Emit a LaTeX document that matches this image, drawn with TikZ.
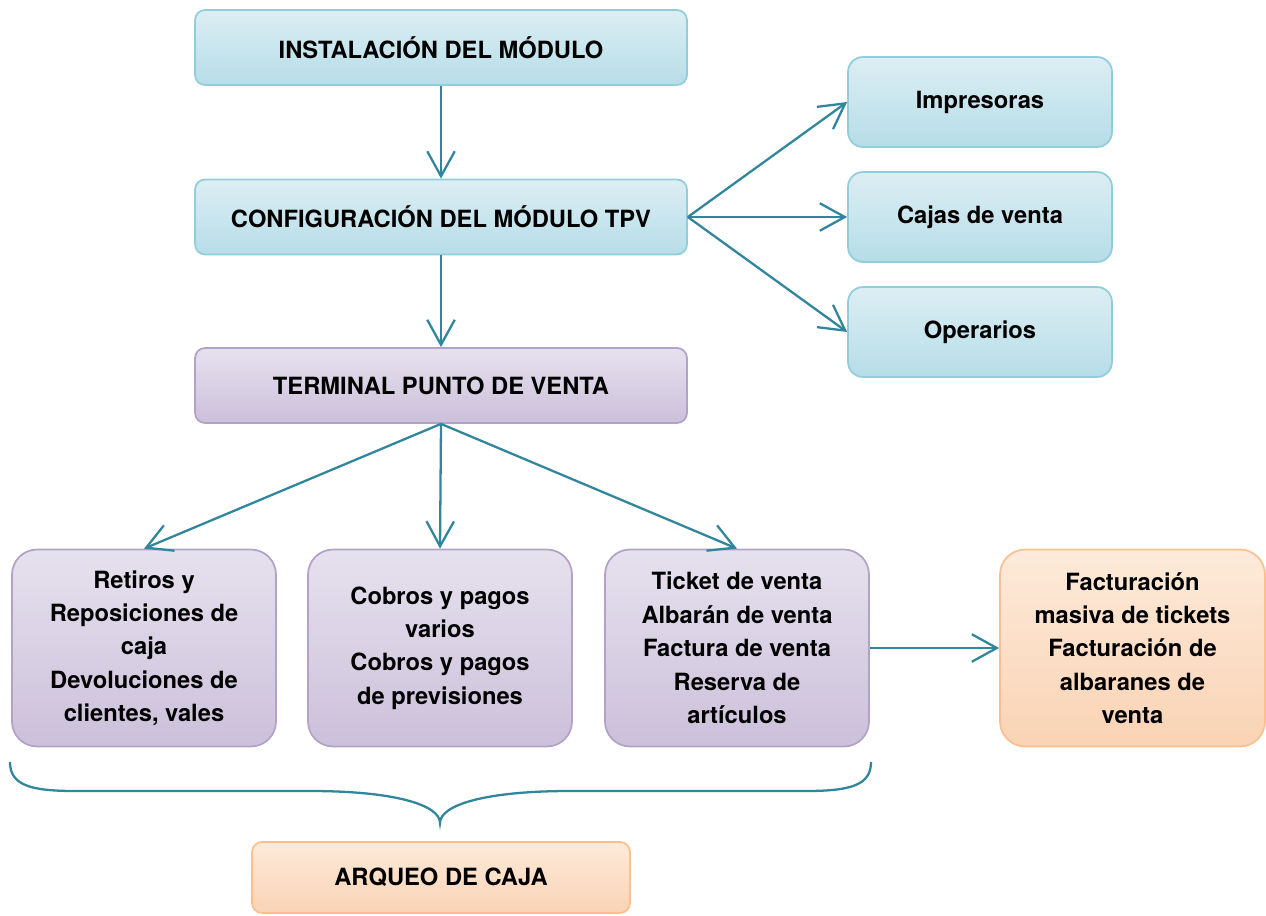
\documentclass[tikz,border=0pt]{standalone}
\usepackage{fontspec}
\setmainfont{TeX Gyre Heros}
\usetikzlibrary{arrows.meta}

\definecolor{bluetop}{HTML}{DCEEF3}
\definecolor{bluebot}{HTML}{B6DDE8}
\definecolor{blueline}{HTML}{92CDDC}
\definecolor{purptop}{HTML}{E6E1EE}
\definecolor{purpbot}{HTML}{CCC0DA}
\definecolor{purpline}{HTML}{B3A2C7}
\definecolor{orgtop}{HTML}{FDEADA}
\definecolor{orgbot}{HTML}{FAD3B4}
\definecolor{orgline}{HTML}{FAC08F}
\definecolor{arrcol}{HTML}{31859C}

\tikzset{
  box/.style={inner sep=0pt, align=center, line width=1pt,
    font=\fontsize{13.5}{19}\selectfont\bfseries},
  bluebox/.style={box, draw=blueline, top color=bluetop, bottom color=bluebot},
  purplebox/.style={box, draw=purpline, top color=purptop, bottom color=purpbot},
  orangebox/.style={box, draw=orgline, top color=orgtop, bottom color=orgbot},
  arr/.style={draw=arrcol, line width=1.3pt, -{Straight Barb[length=5mm,width=5.5mm]}},
}

\begin{document}
\begin{tikzpicture}[x=0.02cm,y=-0.02cm]
  \useasboundingbox (0,0) rectangle (1266,915);

  % main column
  \node[bluebox, rounded corners=0.2cm, minimum width=9.84cm, minimum height=1.5cm] (inst) at (441,47.5) {INSTALACIÓN DEL MÓDULO};
  \node[bluebox, rounded corners=0.2cm, minimum width=9.84cm, minimum height=1.5cm] (conf) at (441,217) {CONFIGURACIÓN DEL MÓDULO TPV};
  \node[purplebox, rounded corners=0.2cm, minimum width=9.84cm, minimum height=1.5cm] (term) at (441,385.5) {TERMINAL PUNTO DE VENTA};

  % configuration items
  \node[bluebox, rounded corners=0.3cm, minimum width=5.28cm, minimum height=1.8cm] (impr) at (980,102) {Impresoras};
  \node[bluebox, rounded corners=0.3cm, minimum width=5.28cm, minimum height=1.8cm] (cajas) at (980,217) {Cajas de venta};
  \node[bluebox, rounded corners=0.3cm, minimum width=5.28cm, minimum height=1.8cm] (oper) at (980,332) {Operarios};

  % terminal operations
  \node[purplebox, rounded corners=0.5cm, minimum width=5.28cm, minimum height=3.94cm] (retiros) at (144,648)
    {Retiros y\\Reposiciones de\\caja\\Devoluciones de\\clientes, vales};
  \node[purplebox, rounded corners=0.5cm, minimum width=5.28cm, minimum height=3.94cm] (cobros) at (440,648)
    {Cobros y pagos\\varios\\Cobros y pagos\\de previsiones};
  \node[purplebox, rounded corners=0.5cm, minimum width=5.28cm, minimum height=3.94cm] (ticket) at (737,648)
    {Ticket de venta\\Albarán de venta\\Factura de venta\\Reserva de\\artículos};
  \node[orangebox, rounded corners=0.5cm, minimum width=5.3cm, minimum height=3.94cm] (fact) at (1132.5,648)
    {Facturación\\masiva de tickets\\Facturación de\\albaranes de\\venta};

  \node[orangebox, rounded corners=0.2cm, minimum width=7.56cm, minimum height=1.42cm] (arqueo) at (441,877.5) {ARQUEO DE CAJA};

  % connectors
  \draw[arr] (inst) -- (conf);
  \draw[arr] (conf) -- (term);
  \foreach \t in {impr,cajas,oper}
    \draw[arr] (conf.east) -- (\t.west);
  \foreach \t in {retiros,cobros,ticket}
    \draw[arr] (term.south) -- (\t.north);
  \draw[arr] (ticket) -- (fact);

  % brace over the three boxes
  \coordinate (bl) at (10,762);
  \coordinate (bm) at (440,823);
  \coordinate (br) at (871,762);
  \draw[draw=arrcol, line width=1.3pt]
    (bl) .. controls (10,785) and (30,791) .. (75,791) -- (310,791)
         .. controls (395,791) and (440,805) .. (bm)
         .. controls (440,805) and (485,791) .. (570,791) -- (806,791)
         .. controls (851,791) and (871,785) .. (br);
\end{tikzpicture}
\end{document}
